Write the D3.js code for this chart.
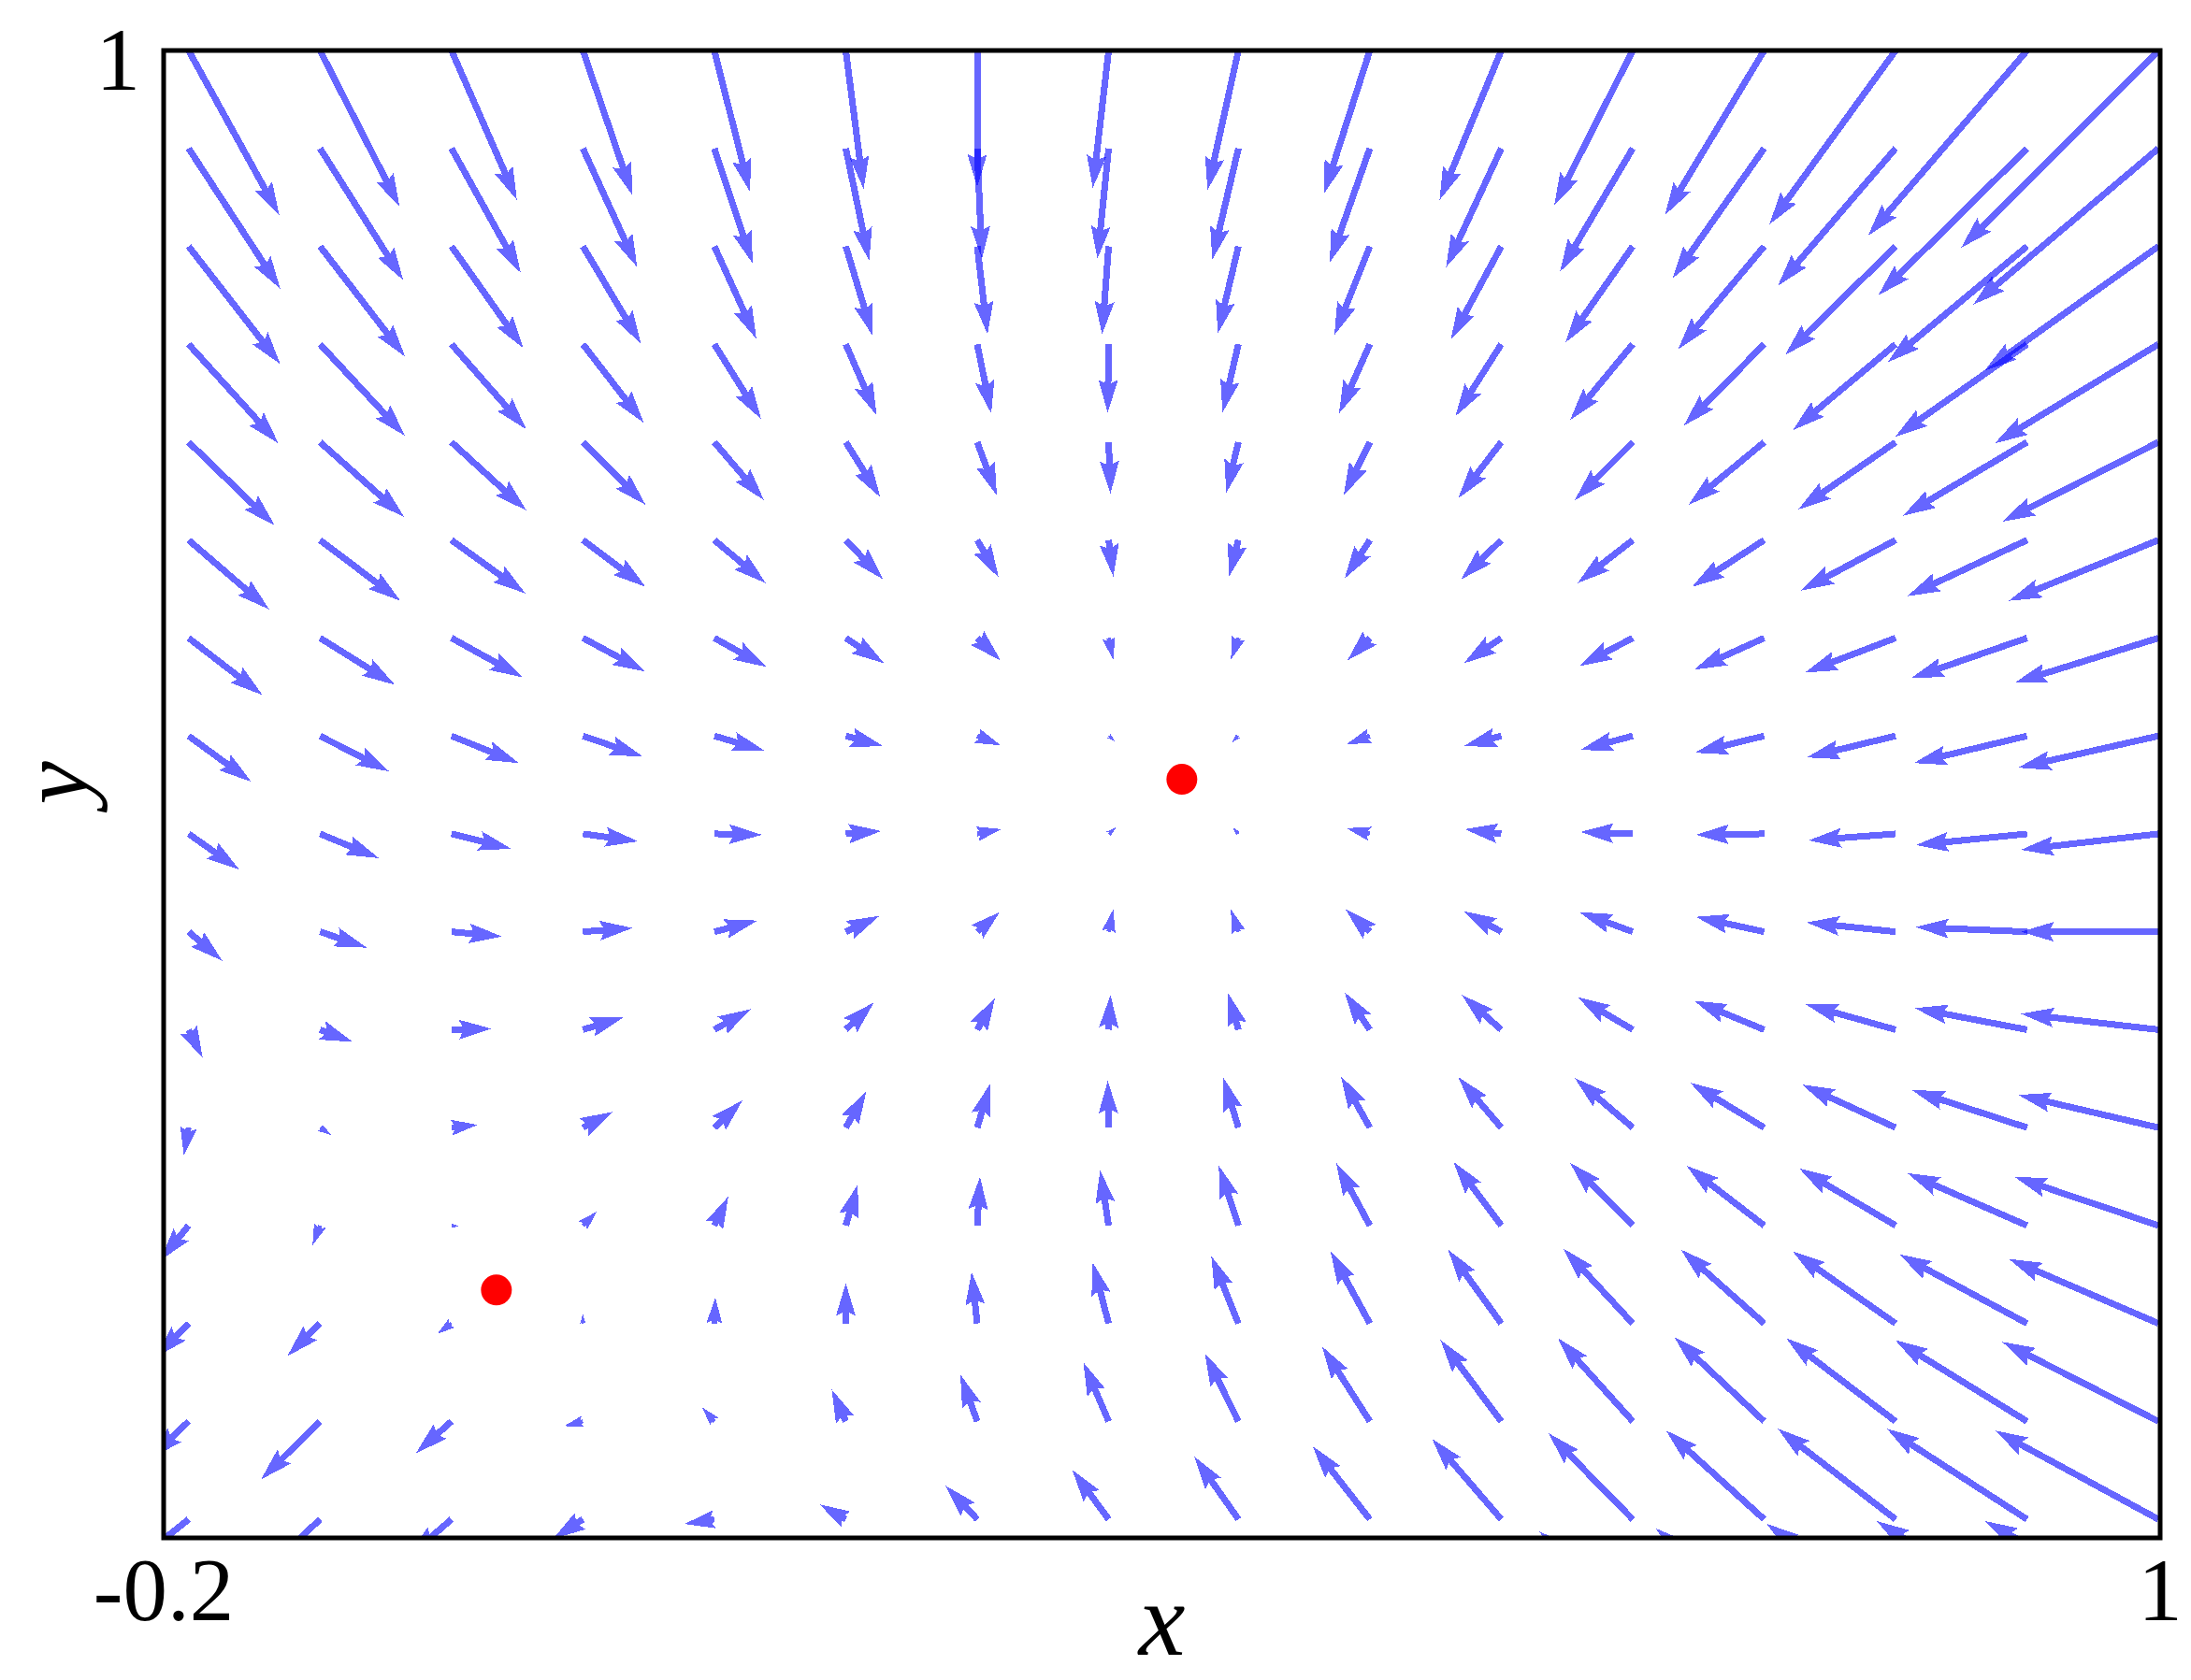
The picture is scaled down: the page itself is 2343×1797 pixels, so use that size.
<!DOCTYPE html>
<html>
<head>
<meta charset="utf-8">
<script src="https://cdn.jsdelivr.net/npm/d3@7"></script>
<style>
  body { margin: 0; background: #fff; }
  text { font-family: "Liberation Serif", "DejaVu Serif", serif; fill: #000; }
</style>
</head>
<body>
<svg id="chart"></svg>
<script>
// sample grid (data coords)
var xGrid = [-0.185, -0.106, -0.027, 0.052, 0.131, 0.210, 0.289, 0.368, 0.446, 0.525, 0.604, 0.683, 0.762, 0.841, 0.920, 0.999];
var yGrid = [1.000, 0.921, 0.842, 0.763, 0.684, 0.605, 0.526, 0.447, 0.368, 0.289, 0.210, 0.131, 0.052, -0.027, -0.106, -0.185, -0.264];

// field components, one row per yGrid value
var U = [
  [0.097, 0.085, 0.070, 0.053, 0.038, 0.019, 0.000, -0.017, -0.033, -0.049, -0.066, -0.084, -0.106, -0.135, -0.170, -0.211],
  [0.098, 0.089, 0.074, 0.058, 0.041, 0.025, 0.005, -0.012, -0.028, -0.043, -0.059, -0.078, -0.098, -0.126, -0.159, -0.198],
  [0.098, 0.091, 0.077, 0.062, 0.045, 0.029, 0.011, -0.007, -0.022, -0.038, -0.054, -0.072, -0.092, -0.118, -0.149, -0.186],
  [0.096, 0.091, 0.080, 0.065, 0.050, 0.033, 0.015, -0.001, -0.017, -0.033, -0.049, -0.067, -0.086, -0.110, -0.141, -0.175],
  [0.092, 0.090, 0.080, 0.067, 0.053, 0.037, 0.021, 0.002, -0.013, -0.028, -0.046, -0.062, -0.081, -0.104, -0.133, -0.167],
  [0.086, 0.086, 0.079, 0.067, 0.055, 0.040, 0.023, 0.005, -0.010, -0.027, -0.043, -0.059, -0.077, -0.101, -0.128, -0.160],
  [0.079, 0.080, 0.076, 0.067, 0.056, 0.041, 0.025, 0.005, -0.008, -0.024, -0.040, -0.057, -0.075, -0.097, -0.124, -0.154],
  [0.067, 0.074, 0.072, 0.064, 0.054, 0.040, 0.025, 0.007, -0.007, -0.025, -0.040, -0.056, -0.074, -0.095, -0.121, -0.150],
  [0.054, 0.063, 0.064, 0.059, 0.051, 0.038, 0.026, 0.008, -0.006, -0.025, -0.039, -0.056, -0.073, -0.093, -0.119, -0.147],
  [0.036, 0.050, 0.054, 0.053, 0.046, 0.036, 0.024, 0.005, -0.008, -0.026, -0.040, -0.057, -0.073, -0.095, -0.119, -0.147],
  [0.015, 0.035, 0.043, 0.043, 0.039, 0.030, 0.019, 0.002, -0.011, -0.027, -0.042, -0.059, -0.075, -0.096, -0.120, -0.147],
  [-0.005, 0.012, 0.028, 0.032, 0.030, 0.022, 0.014, -0.001, -0.016, -0.031, -0.046, -0.062, -0.079, -0.100, -0.123, -0.150],
  [-0.030, -0.008, 0.008, 0.015, 0.015, 0.013, 0.003, -0.009, -0.021, -0.036, -0.051, -0.067, -0.083, -0.103, -0.128, -0.154],
  [-0.035, -0.035, -0.015, 0.000, 0.001, 0.000, -0.006, -0.017, -0.029, -0.042, -0.057, -0.074, -0.089, -0.110, -0.137, -0.160],
  [-0.040, -0.063, -0.038, -0.020, -0.013, -0.015, -0.018, -0.027, -0.036, -0.051, -0.065, -0.080, -0.096, -0.117, -0.141, -0.167],
  [-0.050, -0.060, -0.045, -0.032, -0.032, -0.028, -0.034, -0.039, -0.047, -0.061, -0.074, -0.090, -0.105, -0.126, -0.150, -0.175],
  [-0.055, -0.055, -0.050, -0.042, -0.045, -0.042, -0.045, -0.050, -0.057, -0.070, -0.085, -0.100, -0.116, -0.138, -0.161, -0.186]
];
var V = [
  [-0.176, -0.167, -0.160, -0.155, -0.151, -0.148, -0.146, -0.147, -0.149, -0.153, -0.160, -0.166, -0.176, -0.186, -0.198, -0.211],
  [-0.150, -0.141, -0.133, -0.127, -0.123, -0.120, -0.118, -0.118, -0.119, -0.122, -0.127, -0.132, -0.139, -0.147, -0.157, -0.167],
  [-0.126, -0.118, -0.109, -0.104, -0.099, -0.096, -0.094, -0.094, -0.093, -0.095, -0.100, -0.103, -0.110, -0.116, -0.124, -0.133],
  [-0.106, -0.098, -0.091, -0.084, -0.080, -0.076, -0.074, -0.073, -0.073, -0.074, -0.077, -0.081, -0.087, -0.092, -0.099, -0.106],
  [-0.089, -0.080, -0.073, -0.067, -0.062, -0.059, -0.057, -0.055, -0.054, -0.057, -0.060, -0.062, -0.067, -0.072, -0.079, -0.085],
  [-0.074, -0.065, -0.057, -0.050, -0.046, -0.042, -0.040, -0.039, -0.039, -0.041, -0.042, -0.046, -0.050, -0.054, -0.060, -0.065],
  [-0.061, -0.050, -0.042, -0.036, -0.031, -0.027, -0.024, -0.023, -0.023, -0.024, -0.027, -0.030, -0.034, -0.037, -0.043, -0.048],
  [-0.049, -0.038, -0.029, -0.022, -0.016, -0.011, -0.010, -0.006, -0.007, -0.009, -0.011, -0.015, -0.018, -0.023, -0.029, -0.034],
  [-0.038, -0.026, -0.016, -0.008, -0.001, 0.003, 0.005, 0.007, 0.007, 0.006, 0.005, 0.002, -0.001, -0.007, -0.012, -0.017],
  [-0.031, -0.017, -0.005, 0.004, 0.012, 0.017, 0.021, 0.024, 0.024, 0.024, 0.022, 0.021, 0.016, 0.010, 0.005, 0.000],
  [-0.030, -0.013, 0.001, 0.013, 0.022, 0.029, 0.034, 0.037, 0.039, 0.040, 0.037, 0.035, 0.031, 0.027, 0.023, 0.017],
  [-0.030, -0.008, 0.003, 0.017, 0.029, 0.039, 0.047, 0.050, 0.053, 0.055, 0.054, 0.053, 0.048, 0.046, 0.040, 0.035],
  [-0.037, -0.021, -0.001, 0.015, 0.031, 0.044, 0.052, 0.059, 0.064, 0.067, 0.068, 0.067, 0.064, 0.061, 0.056, 0.052],
  [-0.036, -0.035, -0.011, 0.010, 0.028, 0.043, 0.055, 0.065, 0.072, 0.077, 0.079, 0.080, 0.079, 0.077, 0.074, 0.069],
  [-0.039, -0.062, -0.034, -0.005, 0.015, 0.034, 0.050, 0.063, 0.073, 0.080, 0.087, 0.089, 0.090, 0.089, 0.087, 0.085],
  [-0.040, -0.057, -0.039, -0.021, -0.005, 0.016, 0.036, 0.053, 0.067, 0.078, 0.086, 0.092, 0.095, 0.097, 0.097, 0.095],
  [-0.040, -0.045, -0.040, -0.028, -0.010, 0.008, 0.025, 0.042, 0.058, 0.072, 0.085, 0.092, 0.095, 0.100, 0.103, 0.103]
];

// red fixed points
var fixedX = [0.000, 0.412];
var fixedY = [0.000, 0.412];

var xTicks = [-0.2, 1];
var xTickLabels = ["-0.2", "1"];
var yTicks = [1];
var yTickLabels = ["1"];

(function drawQuiver() {
  var W = 2343, H = 1797;
  var left = 175, right = 2310, top = 54, bottom = 1645;
  var w = 7; // shaft width in px

  var svg = d3.select("#chart").attr("width", W).attr("height", H);

  var x = d3.scaleLinear().domain([-0.2, 1]).range([left, right]);
  var y = d3.scaleLinear().domain([-0.2, 1]).range([bottom, top]);
  var len = d3.scaleLinear().domain([0, 0.1]).range([0, 100]);

  svg.append("defs").append("clipPath").attr("id", "plotClip")
    .append("rect")
    .attr("x", left).attr("y", top)
    .attr("width", right - left).attr("height", bottom - top);

  // matplotlib-like arrow outline along +x, length L px
  function arrowShape(L) {
    var l = L / w, px, py;
    if (l >= 5) {
      px = [0, l - 4.5, l - 5, l];
      py = [0.5, 0.5, 1.5, 0];
    } else {
      var s = l / 5;
      px = [0, 0.5 * s, 0, 5 * s];
      py = [0.5 * s, 0.5 * s, 1.5 * s, 0];
    }
    var pts = [];
    for (var i = 0; i < 4; i++) pts.push([px[i] * w, py[i] * w]);
    for (var j = 2; j >= 0; j--) pts.push([px[j] * w, -py[j] * w]);
    return pts;
  }

  var cells = [];
  yGrid.forEach(function(yv, r) {
    xGrid.forEach(function(xv, c) {
      cells.push({x: xv, y: yv, u: U[r][c], v: V[r][c]});
    });
  });

  var arrows = svg.append("g").attr("clip-path", "url(#plotClip)");
  arrows.selectAll("path.arrow").data(cells).enter().append("path")
    .attr("class", "arrow")
    .attr("d", function(d) {
      var dx = len(d.u), dy = -len(d.v);
      return "M" + arrowShape(Math.sqrt(dx * dx + dy * dy)).join("L") + "Z";
    })
    .attr("transform", function(d) {
      var a = Math.atan2(-len(d.v), len(d.u)) * 180 / Math.PI;
      return "translate(" + x(d.x) + "," + y(d.y) + ") rotate(" + a + ")";
    })
    .attr("fill", "#0000ff")
    .attr("fill-opacity", 0.6)
    .attr("shape-rendering", "crispEdges");

  svg.append("g").selectAll("circle").data(fixedX).enter().append("circle")
    .attr("cx", function(d) { return x(d); })
    .attr("cy", function(d, i) { return y(fixedY[i]); })
    .attr("r", 16.5)
    .attr("fill", "#ff0000");

  // frame
  svg.append("rect")
    .attr("x", left).attr("y", top)
    .attr("width", right - left).attr("height", bottom - top)
    .attr("fill", "none").attr("stroke", "#000").attr("stroke-width", 5);

  // tick labels
  svg.append("g").selectAll("text").data(xTicks).enter().append("text")
    .attr("x", function(d) { return x(d); })
    .attr("y", 1733)
    .attr("text-anchor", "middle")
    .attr("font-size", 95)
    .text(function(d, i) { return xTickLabels[i]; });

  svg.append("g").selectAll("text").data(yTicks).enter().append("text")
    .attr("x", left - 25)
    .attr("y", function(d) { return y(d) + 42; })
    .attr("text-anchor", "end")
    .attr("font-size", 95)
    .text(function(d, i) { return yTickLabels[i]; });

  // axis labels
  svg.append("text")
    .attr("x", (left + right) / 2).attr("y", 1770)
    .attr("text-anchor", "middle")
    .attr("font-size", 112).attr("font-style", "italic")
    .text("x");

  svg.append("text")
    .attr("transform", "translate(93," + ((top + bottom) / 2 - 12) + ") rotate(-90)")
    .attr("text-anchor", "middle")
    .attr("font-size", 104).attr("font-style", "italic")
    .text("y");
})();
</script>
</body>
</html>
